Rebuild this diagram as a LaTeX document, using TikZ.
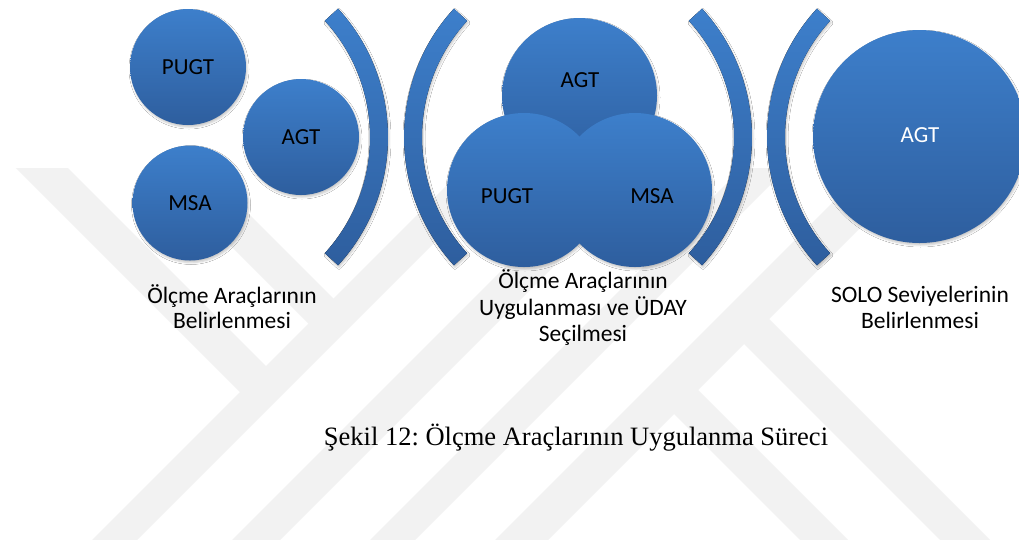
\documentclass[tikz,border=0pt]{standalone}
\usepackage{fontspec}
\setmainfont{Liberation Serif}
\newfontfamily\smartfont{Carlito}
\usetikzlibrary{shadows.blur}
\frenchspacing

\definecolor{blueTop}{RGB}{61,127,203}
\definecolor{blueBot}{RGB}{46,94,158}
\definecolor{emblem}{RGB}{242,242,242}

\begin{document}
\begin{tikzpicture}[x=1pt,y=-1pt,
  softshadow/.style={blur shadow={shadow xshift=1pt,shadow yshift=-2pt,
      shadow blur radius=2pt,shadow opacity=22}},
  disc/.style={circle,inner sep=0pt,minimum size=#1,draw=none,
      top color=blueTop,bottom color=blueBot},
  arcband/.style={top color=blueTop,bottom color=blueBot,softshadow},
  disctext/.style={font=\smartfont\fontsize{23}{26}\selectfont,inner sep=0pt},
  lbl/.style={font=\smartfont\fontsize{23.5}{26}\selectfont,inner sep=0pt,anchor=base},
  band/.style={fill=emblem,draw=none}]

\useasboundingbox (0,0) rectangle (1019,539);
\clip (0,0) rectangle (1019,539);
\fill[white] (0,0) rectangle (1019,539);

% faint background emblem made of diagonal bands
\begin{scope}
  \clip (0,168) rectangle (1019,539);
  \fill[band] (-2,150) -- (50,150) -- (275,375) -- (249,401) -- cycle;
  \fill[band] (135,150) -- (185,150) -- (342.5,307.5) -- (317.5,332.5) -- cycle;
  \fill[band] (482,150) -- (527,150) -- (117,560) -- (72,560) -- cycle;
  \fill[band] (622,150) -- (670,150) -- (260,560) -- (212,560) -- cycle;
  \fill[band] (760,150) -- (805,150) -- (395,560) -- (350,560) -- cycle;
  \fill[band] (885,150) -- (938,150) -- (528,560) -- (475,560) -- cycle;
  \fill[band] (684,376) -- (868,560) -- (820,560) -- (660,400) -- cycle;
  \fill[band] (755,305) -- (1010,560) -- (960,560) -- (730,330) -- cycle;
\end{scope}

% centres of the four bracket arcs
\coordinate (c1) at (198,137);
\coordinate (c2) at (594,137);
\coordinate (c3) at (562,137);
\coordinate (c4) at (957,137);

% soft shadows under all discs, laid down first
\path[softshadow] (188,67) circle[radius=58];
\path[softshadow] (301,137) circle[radius=58];
\path[softshadow] (190,203) circle[radius=57.5];
\path[softshadow] (579.5,95.5) circle[radius=77.5];
\path[softshadow] (524,190) circle[radius=77];
\path[softshadow] (635,190) circle[radius=77];
\path[softshadow] (919.5,136.5) circle[radius=106.5];

% stage 1: three separate tools
\node[disc=116pt] (s1pugt) at (188,67) {};
\node[disc=116pt] (s1agt)  at (301,137) {};
\node[disc=115pt] (s1msa)  at (190,203) {};
\node[disctext] (s1pugtT) at (s1pugt) {PUGT};
\node[disctext] (s1agtT)  at (s1agt)  {AGT};
\node[disctext] (s1msaT)  at (s1msa)  {MSA};

% brackets around stage 2
\fill[arcband] ([shift={(-42.5:190)}]c1) arc[start angle=-42.5,end angle=42.5,radius=190]
  -- ([shift={(42.5:172)}]c1) arc[start angle=42.5,end angle=-42.5,radius=172] -- cycle;
\fill[arcband] ([shift={(222.5:190)}]c2) arc[start angle=222.5,end angle=137.5,radius=190]
  -- ([shift={(137.5:172)}]c2) arc[start angle=137.5,end angle=222.5,radius=172] -- cycle;
\fill[arcband] ([shift={(-42.5:190)}]c3) arc[start angle=-42.5,end angle=42.5,radius=190]
  -- ([shift={(42.5:172)}]c3) arc[start angle=42.5,end angle=-42.5,radius=172] -- cycle;
\fill[arcband] ([shift={(222.5:190)}]c4) arc[start angle=222.5,end angle=137.5,radius=190]
  -- ([shift={(137.5:172)}]c4) arc[start angle=137.5,end angle=222.5,radius=172] -- cycle;

% stage 2: overlapping tools
\node[disc=155pt] (s2agt)  at (579.5,95.5) {};
\node[disc=154pt] (s2pugt) at (524,190) {};
\node[disc=154pt] (s2msa)  at (635,190) {};
\node[disctext] (s2agtT)  at (580,80)  {AGT};
\node[disctext] (s2pugtT) at (507,196) {PUGT};
\node[disctext] (s2msaT)  at (652,196) {MSA};

% stage 3: single tool
\node[disc=213pt] (s3agt) at (919.5,136.5) {};
\node[disctext,text=white] (s3agtT) at (920,135) {AGT};

% stage captions
\node[lbl] (l1a) at (232,303) {Ölçme Araçlarının};
\node[lbl] (l1b) at (232,328.5) {Belirlenmesi};
\node[lbl] (l2a) at (583,288.5) {Ölçme Araçlarının};
\node[lbl] (l2b) at (583,315.5) {Uygulanması ve ÜDAY};
\node[lbl] (l2c) at (583,341.5) {Seçilmesi};
\node[lbl] (l3a) at (920,302.5) {SOLO Seviyelerinin};
\node[lbl] (l3b) at (920,328.5) {Belirlenmesi};

% figure caption
\node[font=\fontsize{26.5}{30}\selectfont,inner sep=0pt,anchor=base] (cap) at (576,445)
  {Şekil 12: Ölçme Araçlarının Uygulanma Süreci};
\end{tikzpicture}
\end{document}
